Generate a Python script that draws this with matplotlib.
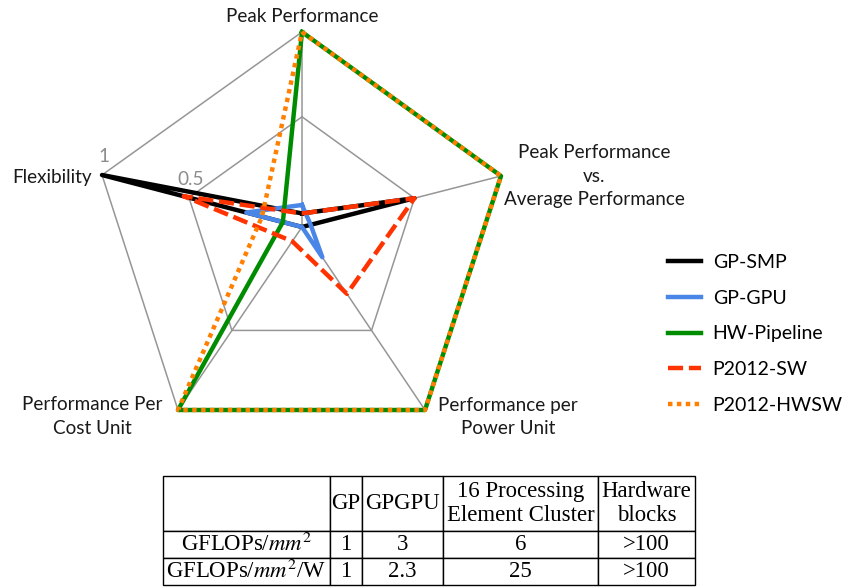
import numpy as np
import matplotlib.pyplot as plt
from matplotlib.lines import Line2D

plt.rcParams['mathtext.fontset'] = 'stix'

# radar axes, clockwise from the top
axis_names = ['Peak Performance',
              'Peak Performance\nvs.\nAverage Performance',
              'Performance per\nPower Unit',
              'Performance Per\nCost Unit',
              'Flexibility']

series_names = ['GP-SMP', 'GP-GPU', 'HW-Pipeline', 'P2012-SW', 'P2012-HWSW']
gp_smp = [-0.07, 0.5, -0.15, -0.15, 1.0]
gp_gpu = [-0.02, -0.10, 0.04, -0.15, 0.17]
hw_pipeline = [1.0, 1.0, 1.0, 1.0, -0.04]
p2012_sw = [-0.07, 0.5, 0.27, -0.06, 0.53]
p2012_hwsw = [1.0, 1.0, 1.0, 1.0, 0.08]

ring_values = [0.5, 1.0]
ring_labels = ['0.5', '1']
r_min, r_max = -0.15, 1.0

# comparison table
table_header = ['', 'GP', 'GPGPU', '16 Processing\nElement Cluster', 'Hardware\nblocks']
table_metrics = ['GFLOPs/$mm^2$', 'GFLOPs/$mm^2$/W']
gp_vals = [1, 1]
gpgpu_vals = [3, 2.3]
cluster_vals = [6, 25]
hw_block_vals = ['>100', '>100']

# end of each spoke (value r_max), in pixels from the chart centre
spoke_end = np.array([[0, 195], [199, 51], [123, -183], [-124, -183], [-200, 52]], float)


def radar_xy(vals):
    f = (np.asarray(vals, float) - r_min) / (r_max - r_min)
    pts = f[:, None] * spoke_end
    pts = np.vstack([pts, pts[:1]])
    return pts[:, 0], pts[:, 1]


fig = plt.figure(figsize=(8.46, 5.87), dpi=100)
ax = fig.add_axes([0, 0, 1, 1])
ax.set_xlim(-302, 544)
ax.set_ylim(-360, 227)
ax.axis('off')

grid_col = '#969696'
for e in spoke_end:
    ax.plot([0, e[0]], [0, e[1]], color=grid_col, lw=1.1, zorder=1)
for rv in ring_values:
    x, y = radar_xy([rv] * 5)
    ax.plot(x, y, color=grid_col, lw=1.1, zorder=1)

styles = [
    dict(color='black', ls='-'),
    dict(color='#4a86e8', ls='-'),
    dict(color='#008c00', ls='-'),
    dict(color='#ff3300', ls=(0, (3.4, 1.3))),
    dict(color='#ff8000', ls=(0, (1, 1))),
]
data = [gp_smp, gp_gpu, hw_pipeline, p2012_sw, p2012_hwsw]
handles = []
for name, vals, st in zip(series_names, data, styles):
    x, y = radar_xy(vals)
    ax.plot(x, y, color=st['color'], ls=st['ls'], lw=3.2,
            solid_joinstyle='round', dash_capstyle='butt', zorder=3)
    handles.append(Line2D([], [], color=st['color'], ls=st['ls'], lw=3.2,
                          dash_capstyle='butt'))

lbl = dict(family='Lato', fontsize=13.6, color='#1a1a1a')
ax.text(0, 211, axis_names[0], ha='center', va='center', **lbl)
ax.text(292, 51, axis_names[1], ha='center', va='center', linespacing=1.5, **lbl)
ax.text(206, -190, axis_names[2], ha='center', va='center', linespacing=1.5, **lbl)
ax.text(-210, -190, axis_names[3], ha='center', va='center', linespacing=1.5, **lbl)
ax.text(-210, 49, axis_names[4], ha='right', va='center', **lbl)

# ring labels along the Flexibility spoke
for rv, rl in zip(ring_values, ring_labels):
    f = (rv - r_min) / (r_max - r_min)
    ex, ey = f * spoke_end[4]
    ax.text(ex + 2, ey + 18, rl, ha='center', va='center',
            family='Lato', fontsize=13.6, color='#8c8c8c')

fig.legend(handles, series_names, loc='upper left',
           bbox_to_anchor=(668 / 846, 1 - 254 / 587), frameon=False,
           prop=dict(family='Lato', size=14), handlelength=1.7,
           handletextpad=0.6, labelspacing=0.96, borderpad=0, borderaxespad=0)

# table below the chart
tax = fig.add_axes([163 / 846, 2 / 587, 532 / 846, 109 / 587])
tax.axis('off')
cell_text = [table_header]
for i, m in enumerate(table_metrics):
    cell_text.append([m, str(gp_vals[i]), str(gpgpu_vals[i]),
                      str(cluster_vals[i]), hw_block_vals[i]])
tbl = tax.table(cellText=cell_text, colWidths=[167, 32, 81, 155, 97],
                cellLoc='center', bbox=[0, 0, 1, 1])
tbl.auto_set_font_size(False)
tbl.set_fontsize(16.4)
for (r, c), cell in tbl.get_celld().items():
    cell.set_height(2.05 if r == 0 else 1)
    cell.set_linewidth(1.0)
    cell.PAD = 0.02
    cell.get_text().set_fontfamily('Liberation Serif')

fig.savefig('out.png', dpi=100)
